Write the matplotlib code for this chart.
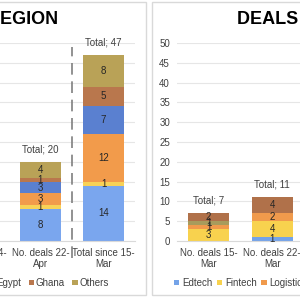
import matplotlib
matplotlib.use("Agg")
import matplotlib.pyplot as plt
from matplotlib.patches import Rectangle
import numpy as np

plt.rcParams['font.family'] = ['Liberation Sans', 'DejaVu Sans']

# ---------------- data ----------------
left_title = "DEALS BY REGION"
right_title = "DEALS BY SECTOR"

left_ticklabels = ["No. deals 14-\nApr", "No. deals 22-\nApr", "Total since 15-\nMar"]
left_series = ["Nigeria", "South Africa", "Kenya", "Egypt", "Ghana", "Others"]
left_values = {           # bars for "No. deals 22-Apr" and "Total since 15-Mar"
    "Nigeria":      [8, 14],
    "South Africa": [1, 1],
    "Kenya":        [3, 12],
    "Egypt":        [3, 7],
    "Ghana":        [1, 5],
    "Others":       [4, 8],
}
left_colors = ["#7AA6EE", "#F8D257", "#F29B4B", "#5A80D0", "#B9774D", "#B9A257"]

right_ticklabels = ["No. deals 15-\nMar", "No. deals 22-\nMar"]
right_series = ["Edtech", "Fintech", "Logistics", "E-commerce", "Others"]
right_values = {
    "Edtech":     [0, 1],
    "Fintech":    [3, 4],
    "Logistics":  [1, 2],
    "E-commerce": [1, 0],
    "Others":     [2, 4],
}
right_colors = ["#74A3E8", "#F8D24E", "#F09A4C", "#A89B5C", "#B0714A"]

yticks = [0, 5, 10, 15, 20, 25, 30, 35, 40, 45, 50]

# ---------------- figure ----------------
W = H = 300
fig = plt.figure(figsize=(3, 3), dpi=100)
fig.patch.set_facecolor("white")


def rect(l, t, r, b):
    return [l / W, 1 - b / H, (r - l) / W, (b - t) / H]


# panel frames
for (l, t, r, b) in [(-20, 2, 146, 295), (152, 2, 330, 295)]:
    fig.patches.append(Rectangle((l / W, 1 - b / H), (r - l) / W, (b - t) / H,
                                 transform=fig.transFigure, fill=False,
                                 edgecolor="#D9D9D9", lw=1.0, zorder=0))

TXT = "#404040"
FS = 7


def style_axes(ax):
    ax.set_ylim(0, 50)
    ax.set_yticks(yticks)
    ax.grid(axis="y", color="#E6E6E6", lw=0.8, zorder=0)
    ax.set_axisbelow(True)
    for s in ["top", "right", "left"]:
        ax.spines[s].set_visible(False)
    ax.spines["bottom"].set_color("#D9D9D9")
    ax.spines["bottom"].set_linewidth(0.8)
    ax.tick_params(axis="both", length=0, labelsize=FS, labelcolor=TXT, pad=5)
    ax.patch.set_alpha(0)


def stacked(ax, pos, series, values, colors, width):
    bottom = np.zeros(len(pos))
    for name, col in zip(series, colors):
        v = np.array(values[name], dtype=float)
        bc = ax.bar(pos, v, width, bottom=bottom, color=col, zorder=2, label=name)
        labs = [f"{int(x)}" if x > 0 else "" for x in v]
        ax.bar_label(bc, labels=labs, label_type="center", fontsize=FS, color="#262626")
        bottom += v
    for x, t in zip(pos, bottom):
        ax.annotate(f"Total; {int(t)}", (x, t), xytext=(0, 9), textcoords="offset points",
                    ha="center", va="center", fontsize=FS, color=TXT, annotation_clip=False)


# ---------------- left panel ----------------
axL = fig.add_axes(rect(-54, 43, 135, 241))
style_axes(axL)
axL.tick_params(axis="y", labelleft=False)
axL.set_xlim(-0.5, 2.5)
axL.set_xticks(range(len(left_ticklabels)))
axL.set_xticklabels(left_ticklabels, linespacing=1.1)
stacked(axL, [1, 2], left_series, left_values, left_colors, 0.66)
axL.plot([1.5, 1.5], [-4.3, 49], color="#7F7F7F", lw=1.2, dashes=(7, 4),
         clip_on=False, zorder=3)
legL = axL.legend(loc="center right", bbox_to_anchor=(109 / W, 1 - 283 / H),
                  bbox_transform=fig.transFigure, ncol=6, frameon=False, fontsize=FS,
                  handlelength=0.55, handleheight=0.55, handletextpad=0.2,
                  columnspacing=0.75, borderpad=0, borderaxespad=0)
for t in legL.get_texts():
    t.set_color(TXT)
fig.text(58 / W, 1 - 20 / H, left_title, ha="right", va="center",
         fontsize=13, fontweight="bold", color="black")

# ---------------- right panel ----------------
axR = fig.add_axes(rect(177, 43, 304, 241))
style_axes(axR)
axR.set_xlim(-0.5, 1.5)
axR.set_xticks(range(len(right_ticklabels)))
axR.set_xticklabels(right_ticklabels, linespacing=1.1)
stacked(axR, [0, 1], right_series, right_values, right_colors, 0.65)
legR = axR.legend(loc="center left", bbox_to_anchor=(174 / W, 1 - 283 / H),
                  bbox_transform=fig.transFigure, ncol=5, frameon=False, fontsize=FS,
                  handlelength=0.55, handleheight=0.55, handletextpad=0.3,
                  columnspacing=0.45, borderpad=0, borderaxespad=0)
for t in legR.get_texts():
    t.set_color(TXT)
fig.text(237 / W, 1 - 20 / H, right_title, ha="left", va="center",
         fontsize=13, fontweight="bold", color="black")

fig.savefig("out.png", dpi=100)
